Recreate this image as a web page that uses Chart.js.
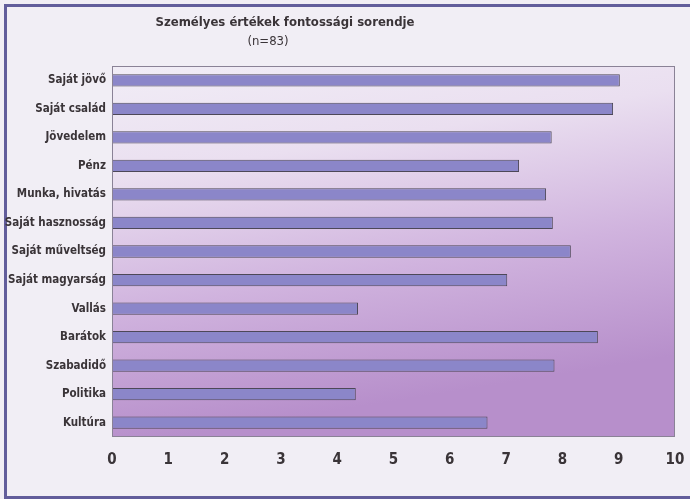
<!DOCTYPE html>
<html>
<head>
<meta charset="utf-8">
<script src="https://cdn.jsdelivr.net/npm/chart.js@4/dist/chart.umd.min.js"></script>
<style>
  html, body { margin: 0; padding: 0; background: #f1eef5; }
  #wrap { width: 690px; height: 499px; position: relative; }
</style>
</head>
<body>
<div id="wrap"><canvas id="myChart" width="690" height="499"></canvas></div>
<script>
const titleText = 'Személyes értékek fontossági sorendje';
const subtitleText = '(n=83)';

const categories = ['Saját jövő', 'Saját család', 'Jövedelem', 'Pénz', 'Munka, hivatás',
  'Saját hasznosság', 'Saját műveltség', 'Saját magyarság', 'Vallás', 'Barátok',
  'Szabadidő', 'Politika', 'Kultúra'];
const values = [9.02, 8.90, 7.81, 7.23, 7.71, 7.83, 8.15, 7.02, 4.37, 8.63, 7.86, 4.33, 6.67];

const xMin = 0;
const xMax = 10;

const labelFont = "'DejaVu Sans Condensed', 'Liberation Sans Narrow', sans-serif";

// background, plot gradient, frame and title
const decor = {
  id: 'decor',
  beforeDraw(chart) {
    const { ctx, chartArea: a, width, height } = chart;
    ctx.save();
    ctx.fillStyle = '#f1eef5';
    ctx.fillRect(0, 0, width, height);
    // outer frame
    ctx.strokeStyle = '#625d9b';
    ctx.lineWidth = 3;
    ctx.strokeRect(5.5, 5.5, width + 10, height - 7);
    // plot gradient
    const g = ctx.createLinearGradient(a.left, a.top, a.left + 60, a.bottom);
    g.addColorStop(0, '#f1edf6');
    g.addColorStop(0.3, '#eadff0');
    g.addColorStop(0.65, '#d0b3de');
    g.addColorStop(1, '#b78fcb');
    ctx.fillStyle = g;
    ctx.fillRect(a.left, a.top, a.right - a.left, a.bottom - a.top);
    ctx.restore();
  },
  afterDraw(chart) {
    const { ctx, chartArea: a } = chart;
    ctx.save();
    ctx.strokeStyle = '#8a8296';
    ctx.lineWidth = 1;
    ctx.strokeRect(a.left + 0.5, a.top + 0.5, a.right - a.left - 1, a.bottom - a.top - 1);
    ctx.fillStyle = '#3a3438';
    ctx.textAlign = 'center';
    ctx.textBaseline = 'middle';
    ctx.font = "bold 13px " + labelFont;
    ctx.fillText(titleText, 285, 23);
    ctx.font = "13px " + labelFont;
    ctx.fillText(subtitleText, 268, 42);
    ctx.restore();
  }
};

new Chart(document.getElementById('myChart'), {
  type: 'bar',
  data: {
    labels: categories,
    datasets: [{
      data: values,
      backgroundColor: '#8b86c9',
      borderColor: '#4d4858',
      borderWidth: 1,
      borderSkipped: false,
      categoryPercentage: 1,
      barPercentage: 0.43
    }]
  },
  options: {
    indexAxis: 'y',
    responsive: false,
    animation: false,
    layout: { padding: { top: 66, right: 15, bottom: 0, left: 0 } },
    plugins: {
      legend: { display: false },
      title: { display: false },
      tooltip: { enabled: false }
    },
    scales: {
      x: {
        min: xMin,
        max: xMax,
        grid: { display: false, drawTicks: false },
        border: { display: false },
        ticks: {
          stepSize: 1,
          padding: 14,
          color: '#3a3438',
          font: { family: labelFont, size: 15, weight: 'bold' }
        },
        afterFit(scale) {
          scale.height = 62;
          scale.paddingLeft = 0;
          scale.paddingRight = 0;
        }
      },
      y: {
        grid: { display: false, drawTicks: false },
        border: { display: false },
        ticks: {
          padding: 6,
          color: '#3a3438',
          font: { family: labelFont, size: 11.5, weight: 'bold' }
        },
        afterFit(scale) { scale.width = 112; }
      }
    }
  },
  plugins: [decor]
});
</script>
</body>
</html>
